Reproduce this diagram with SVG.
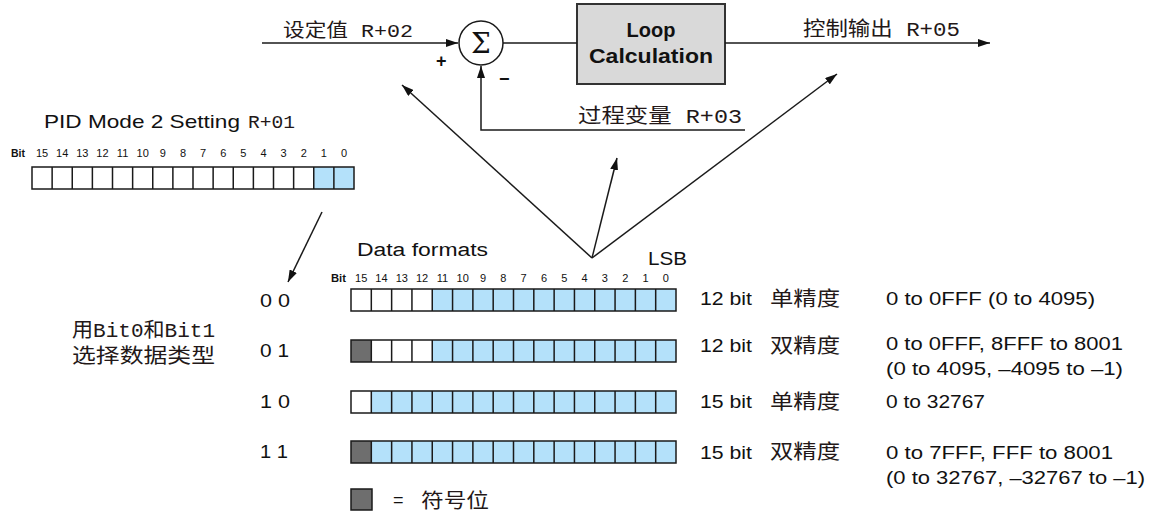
<svg xmlns="http://www.w3.org/2000/svg" xmlns:xlink="http://www.w3.org/1999/xlink" width="1156" height="514" viewBox="0 0 1156 514">
<defs>
<style>
.t{font-family:"Liberation Sans",Arial,sans-serif;fill:#111}
.c{font-family:"Liberation Mono","Noto Sans CJK SC",monospace;fill:#231818}
.bl{font-family:"Liberation Sans",Arial,sans-serif;font-size:11px;fill:#111;text-anchor:middle}
.ln{fill:none;stroke:#1a1a1a;stroke-width:1.5}
.cell{stroke:#1a1a1a;stroke-width:1.5}
.blue{fill:#b4e1fa}
.white{fill:#fff}
.dark{fill:#6e6e6e}
</style>
<marker id="ah" viewBox="0 0 12 8" refX="12" refY="4" markerWidth="12" markerHeight="8" orient="auto" markerUnits="userSpaceOnUse"><path d="M0,0 L12,4 L0,8 z" fill="#111"/></marker>
<path id="divD" d="M371.31,0v22M391.63,0v22M411.94,0v22M432.25,0v22M452.56,0v22M472.88,0v22M493.19,0v22M513.5,0v22M533.81,0v22M554.13,0v22M574.44,0v22M594.75,0v22M615.06,0v22M635.38,0v22M655.69,0v22" fill="none" stroke="#1a1a1a" stroke-width="1.5"/>
</defs>
<rect width="1156" height="514" fill="#fff"/>

<g id="sum">
<circle cx="481" cy="43" r="22" fill="#fff" stroke="#1a1a1a" stroke-width="1.5"/>
<text x="481" y="53" font-family="DejaVu Serif,Liberation Serif,serif" font-size="28" text-anchor="middle" fill="#111">Σ</text>
<text class="t" x="436" y="67" font-size="18" font-weight="bold">+</text>
<text class="t" x="499" y="85" font-size="18" font-weight="bold">−</text>
</g>

<g id="loop">
<rect x="577" y="4" width="148" height="80" fill="#d9d9d9" stroke="#333" stroke-width="2"/>
<text class="t" x="651" y="37" font-size="20" font-weight="bold" text-anchor="middle">Loop</text>
<text class="t" x="589" y="63" font-size="20" font-weight="bold" textLength="124" lengthAdjust="spacingAndGlyphs">Calculation</text>
</g>

<g id="labels-top">
<text class="c" x="283" y="37" font-size="19" textLength="130" lengthAdjust="spacingAndGlyphs">设定值 R+02</text>
<text class="c" x="803" y="36" font-size="20" textLength="157" lengthAdjust="spacingAndGlyphs">控制输出 R+05</text>
<text class="c" x="578" y="123" font-size="20" textLength="164" lengthAdjust="spacingAndGlyphs">过程变量 R+03</text>
</g>

<g id="connectors">
<path class="ln" d="M262,43H458" marker-end="url(#ah)"/>
<path class="ln" d="M503,43H577"/>
<path class="ln" d="M725,43H990" marker-end="url(#ah)"/>
<path class="ln" d="M745,130H481V66" marker-end="url(#ah)"/>
<path class="ln" d="M592,258L402,85" marker-end="url(#ah)"/>
<path class="ln" d="M592,258L617,158" marker-end="url(#ah)"/>
<path class="ln" d="M592,258L837,74" marker-end="url(#ah)"/>
<path class="ln" d="M322,212L288,282" marker-end="url(#ah)"/>
</g>

<g id="mode-register">
<text class="t" x="44" y="128" font-size="19" textLength="196" lengthAdjust="spacingAndGlyphs">PID Mode 2 Setting</text>
<text class="c" x="248" y="128" font-size="19" textLength="47" lengthAdjust="spacingAndGlyphs">R+01</text>
<text x="11" y="157" font-family="Liberation Sans,Arial,sans-serif" font-size="10" font-weight="bold" fill="#111" textLength="14" lengthAdjust="spacingAndGlyphs">Bit</text>
<g class="bl" font-size="12">
<text x="42.06" y="157">15</text><text x="62.19" y="157">14</text><text x="82.31" y="157">13</text><text x="102.44" y="157">12</text><text x="122.56" y="157">11</text><text x="142.69" y="157">10</text><text x="162.81" y="157">9</text><text x="182.94" y="157">8</text><text x="203.06" y="157">7</text><text x="223.19" y="157">6</text><text x="243.31" y="157">5</text><text x="263.44" y="157">4</text><text x="283.56" y="157">3</text><text x="303.69" y="157">2</text><text x="323.81" y="157">1</text><text x="343.94" y="157">0</text>
</g>
<rect x="32" y="167" width="322" height="22" class="white"/>
<rect x="313.75" y="167" width="40.25" height="22" class="blue"/>
<path d="M52.13,167v22M72.25,167v22M92.38,167v22M112.5,167v22M132.63,167v22M152.75,167v22M172.88,167v22M193,167v22M213.13,167v22M233.25,167v22M253.38,167v22M273.5,167v22M293.63,167v22M313.75,167v22M333.88,167v22" fill="none" stroke="#1a1a1a" stroke-width="1.5"/>
<rect x="32" y="167" width="322" height="22" fill="none" class="cell"/>
</g>

<g id="select-note">
<text class="c" x="72" y="337" font-size="20" textLength="143" lengthAdjust="spacingAndGlyphs">用Bit0和Bit1</text>
<text class="c" x="72" y="363" font-size="20" textLength="143" lengthAdjust="spacingAndGlyphs">选择数据类型</text>
</g>

<g id="data-formats">
<text class="t" x="357" y="256" font-size="18" textLength="131" lengthAdjust="spacingAndGlyphs">Data formats</text>
<text class="t" x="648" y="265" font-size="18" textLength="39" lengthAdjust="spacingAndGlyphs">LSB</text>
<text x="331" y="282" font-family="Liberation Sans,Arial,sans-serif" font-size="10" font-weight="bold" fill="#111" textLength="15" lengthAdjust="spacingAndGlyphs">Bit</text>
<g class="bl" font-size="12">
<text x="361.16" y="282">15</text><text x="381.47" y="282">14</text><text x="401.78" y="282">13</text><text x="422.09" y="282">12</text><text x="442.41" y="282">11</text><text x="462.72" y="282">10</text><text x="483.03" y="282">9</text><text x="503.34" y="282">8</text><text x="523.66" y="282">7</text><text x="543.97" y="282">6</text><text x="564.28" y="282">5</text><text x="584.59" y="282">4</text><text x="604.91" y="282">3</text><text x="625.22" y="282">2</text><text x="645.53" y="282">1</text><text x="665.84" y="282">0</text>
</g>
</g>

<g id="row-00">
<text class="t" x="260" y="307" font-size="18" textLength="30" lengthAdjust="spacingAndGlyphs">0 0</text>
<rect x="351" y="289" width="325" height="22" class="blue"/>
<rect x="351" y="289" width="81.25" height="22" class="white"/>
<use xlink:href="#divD" y="289"/>
<rect x="351" y="289" width="325" height="22" fill="none" class="cell"/>
<text class="t" x="700" y="305" font-size="18" textLength="52" lengthAdjust="spacingAndGlyphs">12 bit</text>
<text class="c" x="770" y="306" font-size="20" textLength="70" lengthAdjust="spacingAndGlyphs">单精度</text>
<text class="t" x="886" y="305" font-size="18" textLength="209" lengthAdjust="spacingAndGlyphs">0 to 0FFF (0 to 4095)</text>
</g>

<g id="row-01">
<text class="t" x="260" y="357" font-size="18" textLength="29" lengthAdjust="spacingAndGlyphs">0 1</text>
<rect x="351" y="340" width="325" height="22" class="blue"/>
<rect x="351" y="340" width="81.25" height="22" class="white"/>
<rect x="351" y="340" width="20.31" height="22" class="dark"/>
<use xlink:href="#divD" y="340"/>
<rect x="351" y="340" width="325" height="22" fill="none" class="cell"/>
<text class="t" x="700" y="352" font-size="18" textLength="52" lengthAdjust="spacingAndGlyphs">12 bit</text>
<text class="c" x="770" y="353" font-size="20" textLength="70" lengthAdjust="spacingAndGlyphs">双精度</text>
<text class="t" x="886" y="350" font-size="18" textLength="237" lengthAdjust="spacingAndGlyphs">0 to 0FFF, 8FFF to 8001</text>
<text class="t" x="886" y="375" font-size="18" textLength="237" lengthAdjust="spacingAndGlyphs">(0 to 4095, –4095 to –1)</text>
</g>

<g id="row-10">
<text class="t" x="260" y="408" font-size="18" textLength="30" lengthAdjust="spacingAndGlyphs">1 0</text>
<rect x="351" y="391" width="325" height="22" class="blue"/>
<rect x="351" y="391" width="20.31" height="22" class="white"/>
<use xlink:href="#divD" y="391"/>
<rect x="351" y="391" width="325" height="22" fill="none" class="cell"/>
<text class="t" x="700" y="408" font-size="18" textLength="52" lengthAdjust="spacingAndGlyphs">15 bit</text>
<text class="c" x="770" y="409" font-size="20" textLength="70" lengthAdjust="spacingAndGlyphs">单精度</text>
<text class="t" x="886" y="408" font-size="18" textLength="99" lengthAdjust="spacingAndGlyphs">0 to 32767</text>
</g>

<g id="row-11">
<text class="t" x="260" y="458" font-size="18" textLength="28" lengthAdjust="spacingAndGlyphs">1 1</text>
<rect x="351" y="441" width="325" height="22" class="blue"/>
<rect x="351" y="441" width="20.31" height="22" class="dark"/>
<use xlink:href="#divD" y="441"/>
<rect x="351" y="441" width="325" height="22" fill="none" class="cell"/>
<text class="t" x="700" y="459" font-size="18" textLength="52" lengthAdjust="spacingAndGlyphs">15 bit</text>
<text class="c" x="770" y="459" font-size="20" textLength="70" lengthAdjust="spacingAndGlyphs">双精度</text>
<text class="t" x="886" y="459" font-size="18" textLength="227" lengthAdjust="spacingAndGlyphs">0 to 7FFF, FFF to 8001</text>
<text class="t" x="886" y="484" font-size="18" textLength="259" lengthAdjust="spacingAndGlyphs">(0 to 32767, –32767 to –1)</text>
</g>

<g id="legend">
<rect x="351" y="489" width="21" height="21" class="dark cell"/>
<text class="t" x="393" y="506" font-size="18">=</text>
<text class="c" x="421" y="508" font-size="20" textLength="68" lengthAdjust="spacingAndGlyphs">符号位</text>
</g>
</svg>
